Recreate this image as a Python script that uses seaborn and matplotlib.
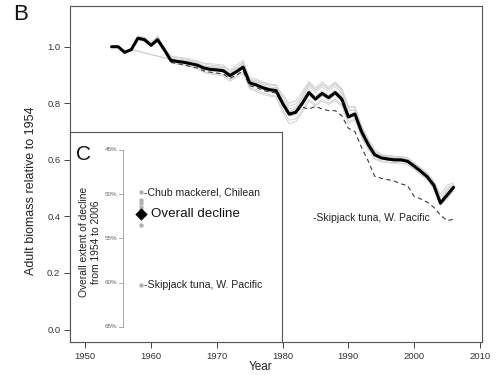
import numpy as np
import pandas as pd
import matplotlib
matplotlib.use("Agg")
import matplotlib.pyplot as plt
import seaborn as sns

# ---- data ----
years = list(range(1954, 2007))

overall = [1.000, 1.000, 0.980, 0.990, 1.030, 1.025, 1.005, 1.025, 0.990, 0.952,
           0.948, 0.945, 0.940, 0.935, 0.925, 0.920, 0.918, 0.915, 0.898, 0.912,
           0.928, 0.872, 0.865, 0.855, 0.848, 0.845, 0.800, 0.762, 0.768, 0.800,
           0.838, 0.815, 0.835, 0.820, 0.838, 0.815, 0.752, 0.762, 0.700, 0.655,
           0.618, 0.607, 0.603, 0.600, 0.600, 0.595, 0.578, 0.560, 0.540, 0.510,
           0.447, 0.475, 0.503]

skipjack_years = list(range(1963, 2007))
skipjack = [0.945, 0.940, 0.936, 0.930, 0.925, 0.915, 0.910, 0.907, 0.903, 0.888,
            0.900, 0.915, 0.862, 0.856, 0.846, 0.840, 0.836, 0.795, 0.756, 0.770,
            0.786, 0.780, 0.789, 0.780, 0.774, 0.774, 0.756, 0.712, 0.700, 0.644,
            0.597, 0.542, 0.535, 0.530, 0.525, 0.515, 0.509, 0.471, 0.462, 0.450,
            0.432, 0.405, 0.385, 0.390]

# leave-one-out runs (light grey bundle)
run_a = [1.000, 1.000, 0.982, 0.992, 1.035, 1.030, 1.010, 1.032, 0.995, 0.967,
         0.963, 0.960, 0.955, 0.950, 0.940, 0.935, 0.933, 0.930, 0.913, 0.927,
         0.945, 0.892, 0.885, 0.875, 0.868, 0.862, 0.832, 0.800, 0.808, 0.840,
         0.878, 0.855, 0.875, 0.858, 0.876, 0.852, 0.790, 0.785, 0.722, 0.675,
         0.636, 0.620, 0.616, 0.613, 0.612, 0.607, 0.590, 0.572, 0.553, 0.525,
         0.478, 0.510, 0.520]
run_b = [1.000, 1.000, 0.981, 0.991, 1.033, 1.028, 1.008, 1.028, 0.993, 0.960,
         0.956, 0.952, 0.948, 0.943, 0.933, 0.928, 0.926, 0.922, 0.905, 0.920,
         0.936, 0.882, 0.876, 0.866, 0.858, 0.855, 0.815, 0.780, 0.786, 0.822,
         0.862, 0.838, 0.858, 0.842, 0.860, 0.836, 0.772, 0.778, 0.712, 0.665,
         0.628, 0.614, 0.611, 0.608, 0.607, 0.602, 0.585, 0.566, 0.546, 0.518,
         0.458, 0.490, 0.510]
run_c = [1.000, 1.000, 0.980, 0.990, 1.031, 1.026, 1.006, 1.026, 0.991, 0.955,
         0.951, 0.948, 0.943, 0.938, 0.928, 0.923, 0.921, 0.918, 0.901, 0.915,
         0.932, 0.877, 0.870, 0.860, 0.853, 0.850, 0.806, 0.770, 0.776, 0.810,
         0.850, 0.826, 0.846, 0.830, 0.848, 0.825, 0.762, 0.770, 0.706, 0.660,
         0.623, 0.611, 0.607, 0.604, 0.603, 0.598, 0.581, 0.563, 0.543, 0.514,
         0.452, 0.482, 0.506]
run_d = [1.000, 1.000, 0.979, 0.989, 1.028, 1.023, 1.003, 1.022, 0.988, 0.948,
         0.944, 0.941, 0.936, 0.930, 0.920, 0.915, 0.913, 0.910, 0.893, 0.907,
         0.922, 0.866, 0.858, 0.848, 0.841, 0.838, 0.792, 0.755, 0.760, 0.792,
         0.828, 0.806, 0.826, 0.811, 0.828, 0.806, 0.744, 0.754, 0.694, 0.650,
         0.613, 0.602, 0.598, 0.595, 0.595, 0.590, 0.573, 0.555, 0.535, 0.505,
         0.443, 0.470, 0.498]
run_e = [1.000, 1.000, 0.978, 0.988, 1.025, 1.020, 1.000, 1.018, 0.985, 0.943,
         0.938, 0.935, 0.929, 0.923, 0.912, 0.907, 0.905, 0.902, 0.884, 0.898,
         0.912, 0.855, 0.848, 0.838, 0.830, 0.826, 0.778, 0.740, 0.745, 0.777,
         0.815, 0.795, 0.815, 0.800, 0.815, 0.795, 0.735, 0.745, 0.685, 0.642,
         0.606, 0.596, 0.592, 0.590, 0.589, 0.584, 0.568, 0.550, 0.530, 0.500,
         0.440, 0.466, 0.494]
run_f = [1.000, 1.000, 0.981, 0.991, 1.032, 1.027, 1.007, 1.030, 0.994, 0.958,
         0.955, 0.952, 0.948, 0.942, 0.934, 0.930, 0.928, 0.925, 0.908, 0.925,
         0.942, 0.878, 0.875, 0.870, 0.865, 0.862, 0.812, 0.772, 0.780, 0.815,
         0.868, 0.845, 0.866, 0.850, 0.868, 0.845, 0.780, 0.775, 0.710, 0.662,
         0.622, 0.610, 0.606, 0.603, 0.603, 0.598, 0.580, 0.562, 0.542, 0.512,
         0.450, 0.492, 0.515]
run_g = [1.000, 1.000, 0.983, 0.993, 1.038, 1.034, 1.014, 1.038, 0.998, 0.965,
         0.962, 0.958, 0.953, 0.948, 0.942, 0.940, 0.938, 0.935, 0.918, 0.935,
         0.952, 0.885, 0.880, 0.872, 0.866, 0.866, 0.825, 0.790, 0.798, 0.830,
         0.872, 0.848, 0.868, 0.852, 0.870, 0.848, 0.785, 0.790, 0.718, 0.670,
         0.630, 0.618, 0.614, 0.611, 0.610, 0.606, 0.588, 0.570, 0.552, 0.524,
         0.468, 0.500, 0.514]
run_h = [1.000, 1.000, 0.979, 0.989, 1.026, 1.021, 1.001, 1.020, 0.986, 0.945,
         0.940, 0.936, 0.930, 0.922, 0.910, 0.903, 0.900, 0.896, 0.878, 0.893,
         0.905, 0.850, 0.842, 0.832, 0.826, 0.822, 0.770, 0.728, 0.735, 0.768,
         0.808, 0.790, 0.808, 0.795, 0.810, 0.790, 0.728, 0.740, 0.680, 0.638,
         0.602, 0.594, 0.590, 0.588, 0.588, 0.583, 0.566, 0.548, 0.528, 0.498,
         0.442, 0.462, 0.490]

# one run with a gap in the early years
gap_years = [1957, 1963]
gap_values = [0.990, 0.955]

# panel C: overall extent of decline (%)
decline_pct = [49.8, 50.6, 51.0, 51.4, 51.8, 53.5, 60.3]
overall_decline_pct = 52.2
pct_ticks = [45, 50, 55, 60, 65]

# ---- long table for the grey bundle ----
runs = {"a": run_a, "b": run_b, "c": run_c, "d": run_d,
        "e": run_e, "f": run_f, "g": run_g, "h": run_h}
grey = pd.concat([pd.DataFrame({"year": years, "biomass": v, "run": k})
                  for k, v in runs.items()], ignore_index=True)

sns.set_theme(style="white")
plt.rcParams["font.family"] = ["Liberation Sans", "DejaVu Sans"]

fig = plt.figure(figsize=(5, 3.75), dpi=100)
ax = fig.add_axes([0.14, 0.088, 0.824, 0.896])

sns.lineplot(data=grey, x="year", y="biomass", units="run", estimator=None,
             color="#d2d2d2", lw=0.7, ax=ax)
ax.plot(gap_years, gap_values, color="#cccccc", lw=0.9)
sns.lineplot(x=skipjack_years, y=skipjack, color="#3a3a3a", lw=0.8,
             linestyle=(0, (4, 3)), ax=ax)
sns.lineplot(x=years, y=overall, color="black", lw=2.2, ax=ax)

ax.text(1984.6, 0.395, "-Skipjack tuna, W. Pacific", fontsize=7.5,
        color="#222222", ha="left", va="center")

ax.set_xlim(1947.68, 2010.32)
ax.set_ylim(-0.044, 1.144)
ax.set_xticks(range(1950, 2011, 10))
ax.set_yticks([0.0, 0.2, 0.4, 0.6, 0.8, 1.0])
ax.set_yticklabels(["0.0", "0.2", "0.4", "0.6", "0.8", "1.0"])
ax.tick_params(axis="both", which="both", direction="out", length=4, width=0.7,
               color="#444444", labelsize=6.8, labelcolor="#333333", pad=3,
               left=True, bottom=True)
for s in ax.spines.values():
    s.set_color("#555555")
    s.set_linewidth(0.8)
ax.set_xlabel("Year", fontsize=8.5, color="#222222")
ax.set_ylabel("Adult biomass relative to 1954", fontsize=9, color="#222222")
ax.xaxis.set_label_coords((261 - 70) / 412, -0.056)
ax.yaxis.set_label_coords(-0.08, 0.449)

fig.text(0.026, 0.96, "B", fontsize=16, ha="left", va="center", color="#111111")

# ---- inset panel C ----
ax_in = fig.add_axes([0.14, 0.088, 0.424, 0.56])
ax_in.set_facecolor("white")
ax_in.set_xlim(0, 1)
ax_in.set_ylim(66.7, 42.97)
ax_in.set_xticks([])
ax_in.set_yticks([])
for s in ax_in.spines.values():
    s.set_color("#555555")
    s.set_linewidth(0.8)

# percentage axis drawn inside the inset
ax_in.plot([0.25, 0.25], [pct_ticks[0], pct_ticks[-1]], color="#aaaaaa", lw=0.7)
for t in pct_ticks:
    ax_in.plot([0.232, 0.25], [t, t], color="#aaaaaa", lw=0.7)
    ax_in.text(0.222, t, f"{t}%", fontsize=4.5, color="#666666",
               ha="right", va="center")

sns.scatterplot(x=[0.333] * len(decline_pct), y=decline_pct, color="#b0b0b0",
                s=10, linewidth=0, ax=ax_in)
sns.scatterplot(x=[0.333], y=[overall_decline_pct], color="black", marker="D",
                s=40, linewidth=0, ax=ax_in)

ax_in.text(0.349, decline_pct[0], "-Chub mackerel, Chilean", fontsize=7.6,
           color="#222222", ha="left", va="center")
ax_in.text(0.381, overall_decline_pct, "Overall decline", fontsize=9.6,
           color="#111111", ha="left", va="center")
ax_in.text(0.349, decline_pct[-1], "-Skipjack tuna, W. Pacific", fontsize=7.6,
           color="#222222", ha="left", va="center")
ax_in.text(0.094, 0.476, "Overall extent of decline\nfrom 1954 to 2006",
           transform=ax_in.transAxes, rotation=90, fontsize=7.4, color="#222222",
           ha="center", va="center", linespacing=1.2)
ax_in.text(0.03, 0.895, "C", transform=ax_in.transAxes, fontsize=15,
           ha="left", va="center", color="#111111")
ax_in.set_xlabel("")
ax_in.set_ylabel("")

fig.savefig("out.png", dpi=100)
plt.close(fig)
